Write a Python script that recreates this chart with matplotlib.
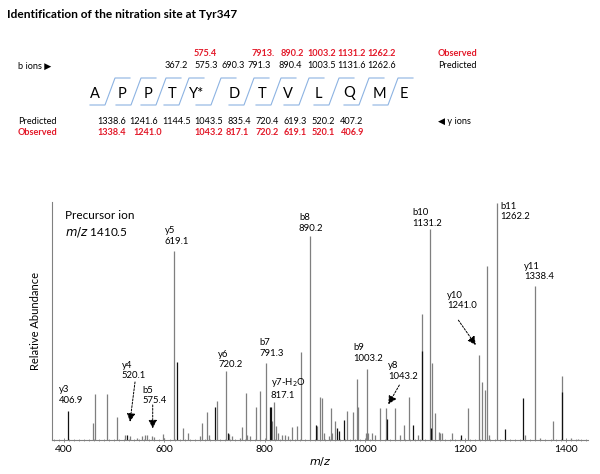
import matplotlib
matplotlib.use('Agg')
import matplotlib.pyplot as plt
from matplotlib.ticker import MultipleLocator

plt.rcParams['font.family'] = ['Lato', 'DejaVu Sans']

# --- spectrum peaks (m/z, relative abundance %) ---
gray_mz = [458.0, 460.8, 485.9, 504.7, 521.2, 532, 545, 556, 561, 565, 575, 579, 596.4, 600,
           619.6, 636.3, 646.3, 670.8, 675.4, 684.2, 688, 705.3, 722, 729, 735, 750,
           755.2, 762, 765, 770, 782.6, 790.6, 801.9, 815, 819.1, 822, 825.9, 835, 841, 846,
           853.8, 863.8, 872.3, 889.7, 904.8, 910.2, 914.8, 918.8, 928, 932.2, 934.8, 940.2,
           963.5, 975.5, 983.5, 985.5, 1001.4, 1003.4, 1006, 1014.6, 1020, 1029.3, 1042.5,
           1060.5, 1069.8, 1078.4, 1088.4, 1105.8, 1114.3, 1130.3, 1134.3, 1140.3, 1147,
           1150, 1153, 1173, 1206, 1227.4, 1233.4, 1240, 1244, 1247, 1262.8, 1320, 1338.6,
           1350, 1374.5, 1392.4, 1410, 1425]
gray_int = [7.0, 19.4, 19.3, 9.7, 2.0, 1.5, 1.0, 1.5, 2.0, 2.3, 1.5, 1.2, 2.5, 1.0,
            80.0, 5.0, 3.0, 1.5, 7.0, 12.0, 2.0, 16.5, 29.0, 2.5, 1.5, 1.0,
            5.5, 19.7, 2.0, 1.5, 14.0, 20.7, 32.6, 8.0, 16.0, 6.0, 3.0, 2.0, 2.0, 1.5,
            5.6, 6.0, 37.0, 86.0, 6.0, 18.3, 17.6, 3.0, 1.5, 13.4, 3.0, 8.0,
            12.4, 12.0, 25.7, 14.0, 3.0, 30.0, 3.0, 3.0, 2.0, 13.4, 13.4,
            13.4, 2.0, 6.2, 18.3, 2.0, 53.0, 89.0, 32.4, 11.5, 3.5,
            3.0, 3.0, 3.0, 13.4, 36.0, 24.6, 21.0, 73.4, 2.0, 100.0, 2.0, 65.0,
            1.0, 8.0, 27.0, 0.8, 0.6]

black_mz = [406.9, 526, 625.6, 700.8, 726, 811.1, 813.1, 902.3, 944.8, 948.7, 958.7,
            1043.5, 1096.4, 1113.1, 1132, 1191, 1280, 1316, 1392.4]
black_int = [12.4, 2.0, 33.0, 14.0, 3.0, 14.0, 14.0, 6.3, 5.0, 4.0, 8.4,
             9.0, 6.3, 37.5, 5.0, 2.0, 4.5, 17.6, 20.4]

# --- ion labels: (text, x, y) in m/z / % coordinates ---
ion_labels = [
    ('y3\n406.9', 389.5, 18.9),
    ('y4\n520.1', 514.6, 29.3),
    ('b5\n575.4', 556.5, 18.8),
    ('y5\n619.1', 601.0, 86.0),
    ('y6\n720.2', 706.8, 34.0),
    ('b7\n791.3', 788.5, 39.0),
    ('y7-H$_2$O\n817.1', 811.9, 21.8),
    ('b8\n890.2', 868.3, 91.6),
    ('b9\n1003.2', 976.7, 36.7),
    ('y8\n1043.2', 1046.5, 29.2),
    ('b10\n1131.2', 1095.2, 93.9),
    ('b11\n1262.2', 1269.3, 96.5),
    ('y10\n1241.0', 1164.2, 58.9),
    ('y11\n1338.4', 1317.2, 71.2),
]
# dashed arrows: (start, end)
arrows = [
    ((541.2, 24.5), (531.2, 7.7)),
    ((576.5, 14.8), (576.5, 4.9)),
    ((1068.5, 23.2), (1046.5, 15.1)),
    ((1186.2, 50.6), (1220.9, 40.1)),
]

# --- sequence panel ---
residues = ['A', 'P', 'P', 'T', 'Y*', 'D', 'T', 'V', 'L', 'Q', 'M', 'E']
residue_x = [95, 122, 148, 172, 197, 234, 262, 288, 318, 349, 379, 404]
cleave_x = [110, 136, 161, 184, 216, 249, 276, 304, 334, 364, 393]

b_pred = ['367.2', '575.3', '690.3', '791.3', '890.4', '1003.5', '1131.6', '1262.6']
b_pred_x = [176.7, 205.8, 233.3, 259, 290, 321.7, 351.7, 381.7]
b_obs = ['575.4', '7913.', '890.2', '1003.2', '1131.2', '1262.2']
b_obs_x = [205.7, 263, 292, 321.7, 351.7, 381.7]

y_pred = ['1338.6', '1241.6', '1144.5', '1043.5', '835.4', '720.4', '619.3', '520.2', '407.2']
y_pred_x = [111.7, 143.3, 176.7, 208.3, 239, 267.5, 295, 323, 351.7]
y_obs = ['1338.4', '1241.0', '1043.2', '817.1', '720.2', '619.1', '520.1', '406.9']
y_obs_x = [111.7, 147.5, 208.3, 237.5, 267, 295, 323, 353]

RED = '#e31a2a'
FS = 6.6
W, H = 600, 474

fig = plt.figure(figsize=(W / 100, H / 100), dpi=100)


def fx(px):
    return px / W


def fy(py):
    return 1 - py / H


fig.text(fx(7), fy(14), 'Identification of the nitration site at Tyr347',
         fontsize=8.6, fontweight='bold', va='center', ha='left')

fig.text(fx(18), fy(66), 'b ions \u25B6', fontsize=FS, va='center')
fig.text(fx(18), fy(121), 'Predicted', fontsize=FS, va='center')
fig.text(fx(18), fy(132.5), 'Observed', fontsize=FS, va='center', color=RED, fontweight='bold')
fig.text(fx(438), fy(54), 'Observed', fontsize=FS, va='center', color=RED, fontweight='bold')
fig.text(fx(438), fy(66), 'Predicted', fontsize=FS, va='center')
fig.text(fx(438), fy(121.5), '\u25C0 y ions', fontsize=FS, va='center')

for t, x in zip(b_obs, b_obs_x):
    fig.text(fx(x), fy(54), t, fontsize=FS, ha='center', va='center', color=RED, fontweight='bold')
for t, x in zip(b_pred, b_pred_x):
    fig.text(fx(x), fy(66), t, fontsize=FS, ha='center', va='center')
for t, x in zip(y_pred, y_pred_x):
    fig.text(fx(x), fy(121), t, fontsize=FS, ha='center', va='center')
for t, x in zip(y_obs, y_obs_x):
    fig.text(fx(x), fy(132.5), t, fontsize=FS, ha='center', va='center', color=RED, fontweight='bold')

for r, x in zip(residues, residue_x):
    fig.text(fx(x), fy(93.5), r, fontsize=10.5, ha='center', va='center')

top_y, bot_y = 78, 105
for cx in cleave_x:
    xs = [cx - 20, cx - 5, cx + 5, cx + 20]
    ys = [bot_y, bot_y, top_y, top_y]
    fig.add_artist(plt.Line2D([fx(v) for v in xs], [fy(v) for v in ys],
                              color='#8db3e2', lw=0.8))

# --- spectrum ---
ax = fig.add_axes([fx(52), 34 / H, 536 / W, 238 / H])
ax.vlines(gray_mz, 0, gray_int, color='#7f7f7f', lw=0.9)
ax.vlines(black_mz, 0, black_int, color='#111111', lw=0.9)
ax.set_ylim(0, 100.5)

for s in ['top', 'right']:
    ax.spines[s].set_visible(False)
ax.spines['left'].set_color('#808080')
ax.spines['bottom'].set_color('#808080')
ax.set_yticks([])
ax.xaxis.set_major_locator(MultipleLocator(200))
ax.xaxis.set_minor_locator(MultipleLocator(10))
ax.tick_params(axis='x', which='major', direction='inout', length=3, width=0.6,
               color='#808080', labelsize=7.5, pad=2)
ax.tick_params(axis='x', which='minor', direction='inout', length=2, width=0.5, color='#808080')
ax.set_xlim(375.6, 1444.8)

ax.set_xlabel('$m/z$', fontsize=8, labelpad=1)
ax.set_ylabel('Relative Abundance', fontsize=8, labelpad=8)

ax.text(401.5, 94.9, 'Precursor ion', fontsize=8.5, va='center')
ax.text(401.5, 87.9, '$m/z$ 1410.5', fontsize=8.5, va='center')

for t, x, y in ion_labels:
    ax.text(x, y, t, fontsize=6.8, va='center', ha='left', linespacing=1.25)

for (x0, y0), (x1, y1) in arrows:
    ax.annotate('', xy=(x1, y1), xytext=(x0, y0),
                arrowprops=dict(arrowstyle='-|>,head_length=0.5,head_width=0.25',
                                color='black', lw=0.7, ls=(0, (2, 1.5)),
                                shrinkA=0, shrinkB=0))

fig.savefig('out.png', dpi=100)
